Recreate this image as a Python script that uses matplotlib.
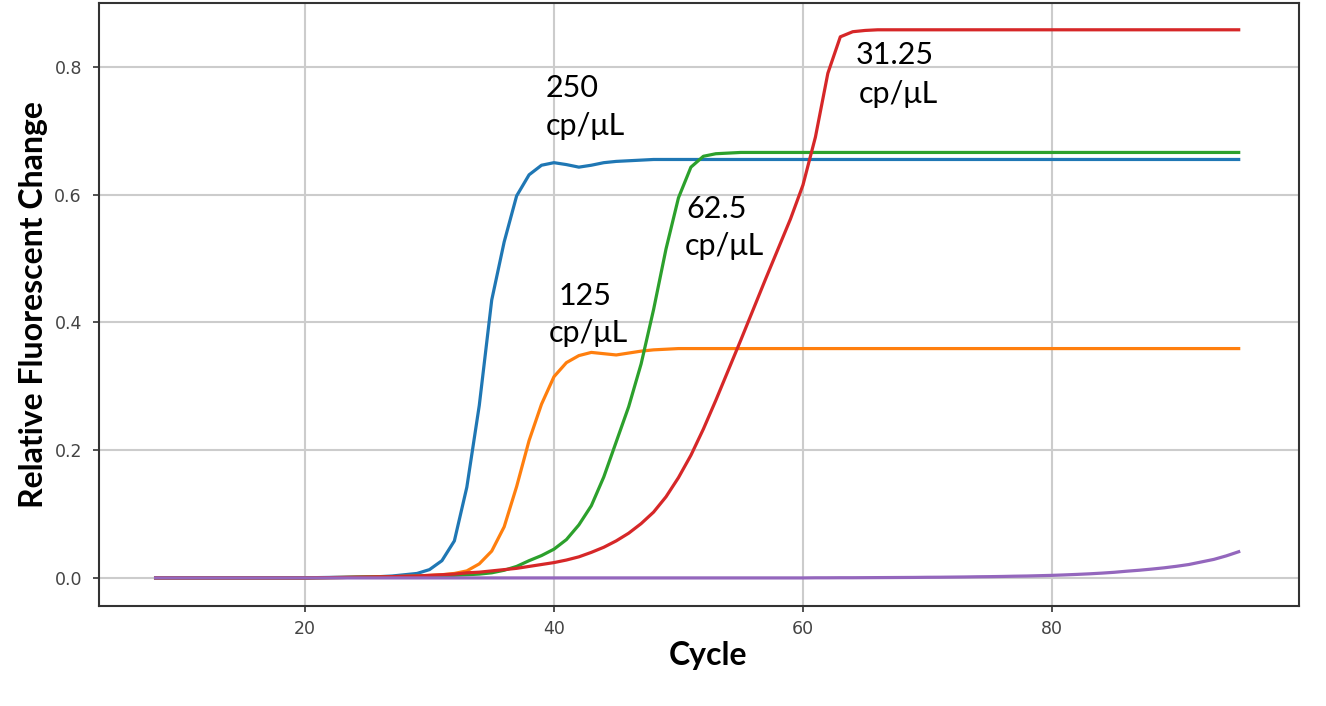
import numpy as np
import matplotlib
matplotlib.use("Agg")
import matplotlib.pyplot as plt

# qPCR-style amplification curves, one value per cycle (8..95)
cycles = np.arange(8, 96)

# cycles 8..20 are flat at zero for every curve
flat_start = [0.0] * 13

blue_250 = flat_start + [
    0.0005, 0.0008, 0.001, 0.0013, 0.0017, 0.002, 0.003, 0.005,   # 21-28
    0.007, 0.013, 0.027, 0.058, 0.142, 0.27, 0.435, 0.526,        # 29-36
    0.598, 0.631, 0.646, 0.65, 0.647, 0.643, 0.646, 0.65,         # 37-44
    0.652, 0.653, 0.654, 0.655,                                   # 45-48
] + [0.655] * 47                                                  # 49-95

orange_125 = flat_start + [
    0.0003, 0.0005, 0.0007, 0.001, 0.0013, 0.0016, 0.002, 0.0025,  # 21-28
    0.003, 0.004, 0.005, 0.007, 0.011, 0.022, 0.042, 0.08,         # 29-36
    0.143, 0.215, 0.272, 0.315, 0.337, 0.348, 0.353, 0.351,        # 37-44
    0.349, 0.352, 0.355, 0.357, 0.358,                             # 45-49
] + [0.359] * 46                                                   # 50-95

green_625 = flat_start + [
    0.0003, 0.0005, 0.0007, 0.001, 0.0012, 0.0015, 0.0018, 0.002,  # 21-28
    0.0025, 0.003, 0.0035, 0.004, 0.005, 0.006, 0.008, 0.012,      # 29-36
    0.018, 0.027, 0.035, 0.045, 0.06, 0.083, 0.113, 0.158,         # 37-44
    0.213, 0.268, 0.335, 0.42, 0.515, 0.595, 0.643, 0.66,          # 45-52
    0.664, 0.665,                                                  # 53-54
] + [0.666] * 41                                                   # 55-95

red_3125 = flat_start + [
    0.0003, 0.0005, 0.0007, 0.001, 0.0013, 0.0017, 0.002, 0.0025,  # 21-28
    0.003, 0.004, 0.005, 0.006, 0.008, 0.009, 0.011, 0.013,        # 29-36
    0.015, 0.018, 0.021, 0.024, 0.028, 0.033, 0.04, 0.048,         # 37-44
    0.058, 0.07, 0.085, 0.103, 0.127, 0.157, 0.192, 0.233,         # 45-52
    0.278, 0.325, 0.372, 0.42, 0.468, 0.515, 0.562, 0.615,         # 53-60
    0.69, 0.79, 0.847, 0.855, 0.857,                               # 61-65
] + [0.858] * 30                                                   # 66-95

purple_ntc = [0.0] * 53 + [                                        # 8-60
    0.0002, 0.0002, 0.0003, 0.0003, 0.0004, 0.0005, 0.0006, 0.0007,  # 61-68
    0.0008, 0.001, 0.0011, 0.0013, 0.0015, 0.0018, 0.002, 0.0023,    # 69-76
    0.0027, 0.003, 0.0035, 0.004, 0.0047, 0.0055, 0.0064, 0.0075,    # 77-84
    0.0088, 0.0105, 0.012, 0.0138, 0.0158, 0.0182, 0.021, 0.025,     # 85-92
    0.029, 0.0345, 0.041,                                            # 93-95
]

series = [blue_250, orange_125, green_625, red_3125, purple_ntc]
colors = ["#1f77b4", "#ff7f0e", "#2ca02c", "#d62728", "#9467bd"]

conc_labels = ["250", "125", "62.5", "31.25"]
unit_label = "cp/\u03bcL"
# (x, baseline y) for the number line and the unit line of each label
number_pos = [(39.3, 0.753), (40.4, 0.427), (50.6, 0.563), (64.2, 0.805)]
unit_pos = [(39.3, 0.694), (39.6, 0.370), (50.5, 0.506), (64.5, 0.744)]

fig = plt.figure(figsize=(13.26, 7.06), dpi=100)
ax = fig.add_axes([0.0749, 0.1416, 0.9047, 0.8542])

for values, color in zip(series, colors):
    ax.plot(cycles, values, color=color, linewidth=2.3)

for label, (nx, ny), (ux, uy) in zip(conc_labels, number_pos, unit_pos):
    ax.text(nx, ny, label, fontsize=22, family="Lato", va="baseline", ha="left")
    ax.text(ux, uy, unit_label, fontsize=22, family="Lato", va="baseline", ha="left")

ax.set_xlim(3.48, 99.84)
ax.set_ylim(-0.044, 0.9)
ax.set_xticks([20, 40, 60, 80])
ax.set_yticks([0.0, 0.2, 0.4, 0.6, 0.8])
ax.grid(True, color="#cccccc", linewidth=1.5)
ax.set_axisbelow(True)

for spine in ax.spines.values():
    spine.set_color("#333333")
    spine.set_linewidth(1.5)

ax.tick_params(axis="both", length=4.5, width=1.2, color="#333333",
               labelsize=12.5, labelcolor="#444444")
ax.tick_params(axis="y", pad=8)
ax.tick_params(axis="x", pad=5.5)

ax.set_xlabel("Cycle", fontsize=23, family="Lato", fontweight="bold")
ax.set_ylabel("Relative Fluorescent Change", fontsize=23, family="Lato", fontweight="bold")
ax.xaxis.set_label_coords(0.507, -0.058)
ax.yaxis.set_label_coords(-0.043, 0.5)

fig.savefig("out.png", dpi=100)
